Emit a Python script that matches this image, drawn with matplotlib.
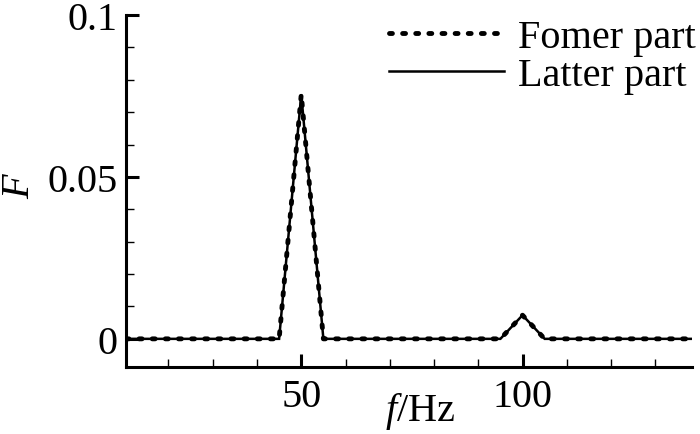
import matplotlib
matplotlib.use("Agg")
import matplotlib.pyplot as plt
from matplotlib.lines import Line2D

## spectrum values, 5 Hz step
freq = [10.4, 15, 20, 25, 30, 35, 40, 45, 50, 55, 60, 65, 70, 75, 80, 85, 90,
        95, 100, 105, 110, 115, 120, 125, 130, 135, 138.3]
F_former = [0, 0, 0, 0, 0, 0, 0, 0, 0.0755, 0, 0, 0, 0, 0, 0, 0, 0,
            0, 0.0073, 0, 0, 0, 0, 0, 0, 0, 0]
F_latter = [0, 0, 0, 0, 0, 0, 0, 0, 0.0755, 0, 0, 0, 0, 0, 0, 0, 0,
            0, 0.0073, 0, 0, 0, 0, 0, 0, 0, 0]

plt.rcParams['font.family'] = ['Liberation Serif', 'DejaVu Serif']
plt.rcParams['mathtext.fontset'] = 'custom'
plt.rcParams['mathtext.it'] = 'Liberation Serif:italic'
plt.rcParams['mathtext.rm'] = 'Liberation Serif'

FS = 29

fig = plt.figure(figsize=(7, 4.35), dpi=100)
ax = fig.add_axes([0.18, 0.154, 0.8086, 0.809])

ax.plot(freq, F_latter, color='black', lw=1.8, solid_joinstyle='miter')
ax.plot(freq, F_former, color='black', lw=3.5, linestyle=(0, (0.6, 2.1)),
        dash_capstyle='round')

ax.set_xlim(10.4, 138.3)
ax.set_ylim(-0.0087, 0.1)
ax.set_xticks([50, 100])
ax.set_xticks([20, 30, 40, 60, 70, 80, 90, 110, 120, 130], minor=True)
ax.set_yticks([0, 0.05, 0.1])
ax.set_yticklabels(['0', '0.05', '0.1'])
ax.set_yticks([0.01, 0.02, 0.03, 0.04, 0.06, 0.07, 0.08, 0.09], minor=True)

for s in ['top', 'right']:
    ax.spines[s].set_visible(False)
for s in ['left', 'bottom']:
    ax.spines[s].set_linewidth(2.2)
ax.tick_params(which='major', direction='in', length=9.5, width=2.2,
               labelsize=FS)
ax.tick_params(axis='x', which='major', pad=8)
ax.tick_params(axis='y', which='major', pad=6)
ax.tick_params(which='minor', direction='in', length=6, width=1.0)

ax.set_xlabel('$f$/Hz', fontsize=FS)
ax.xaxis.set_label_coords(0.52, -0.065)
ax.set_ylabel('$F$', fontsize=FS)
ax.yaxis.set_label_coords(-0.155, 0.52)

handles = [Line2D([], [], color='black', lw=3.5, linestyle=(0, (0.6, 2.1)),
                  dash_capstyle='round'),
           Line2D([], [], color='black', lw=1.8)]
ax.legend(handles, ['Fomer part', 'Latter part'], loc='upper right',
          bbox_to_anchor=(1.006, 0.99), frameon=False, fontsize=FS,
          handlelength=2.85, handletextpad=0.35, labelspacing=0.02,
          borderaxespad=0, borderpad=0)

fig.savefig('out.png', dpi=100)
